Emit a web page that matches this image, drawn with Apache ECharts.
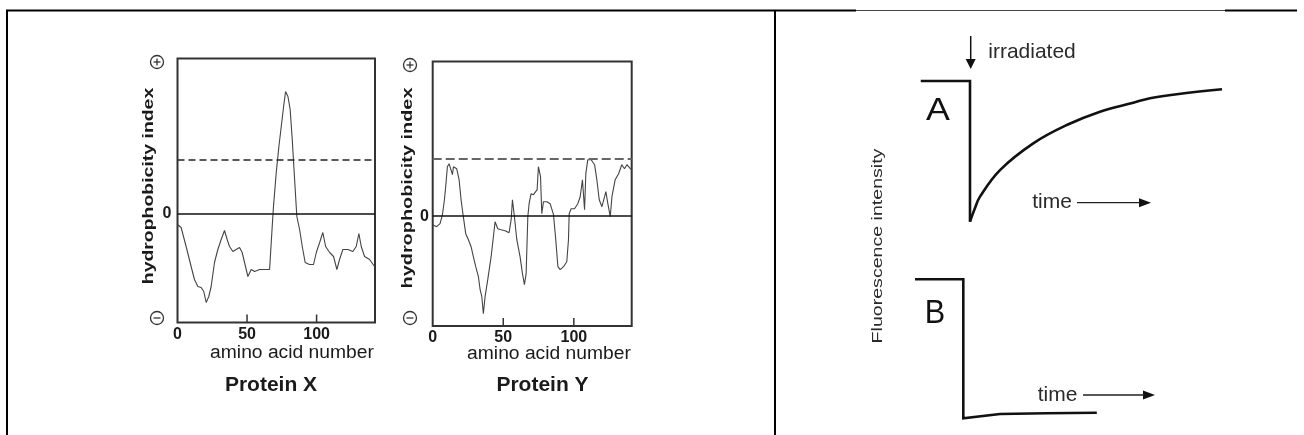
<!DOCTYPE html>
<html>
<head>
<meta charset="utf-8">
<script src="https://cdn.jsdelivr.net/npm/echarts@6/dist/echarts.min.js"></script>
<style>
html,body{margin:0;padding:0;background:#fff;}
#chart{width:1304px;height:435px;}
</style>
</head>
<body>
<div id="chart"></div>
<script>
// ---------- DATA ----------
// Protein X hydrophobicity profile (amino acid number, index in arbitrary units)
const proteinX_aa = [0,2.6,6.2,9.8,12.2,14.6,17,18.9,20.6,22.5,24.2,26.6,29,31.4,33.8,35.7,37.4,39.8,42.2,44.6,46.5,48.2,50.6,53,55.4,59,62.6,66.2,68.1,69,71,72.9,74.6,76.3,77.7,79.4,81,82.5,84.2,85.8,87.8,89.7,91.8,94.9,97.8,99.8,102.2,104.5,106.5,109.4,112.2,114.6,116.5,118.9,122.5,126.1,128.5,130.4,132.1,134.5,138.1,141.7];
const proteinX_index = [-1.1,-1.4,-3.3,-5.3,-6.6,-7.3,-7.4,-7.8,-8.9,-8.3,-7.3,-4.9,-3.6,-2.6,-1.7,-2.6,-3.3,-3.8,-3.6,-3.4,-3.9,-4.9,-6.3,-5.6,-5.8,-5.6,-5.6,-5.6,-1.3,0.7,4.1,6.7,8.7,10.7,12.2,11.7,10.4,7.4,3.4,-0.3,-1.6,-3.3,-4.9,-5.1,-5.1,-3.9,-2.9,-1.9,-3.3,-3.9,-4.3,-5.6,-4.6,-3.6,-3.6,-3.8,-3.3,-2.0,-3.3,-4.3,-4.6,-5.3];
// Protein Y hydrophobicity profile
const proteinY_aa = [0,2.8,5.2,6.9,8.3,9.2,10.4,11.6,13,14,14.7,17,18.7,20.1,21.7,23.4,25.3,27.2,28.8,30.5,32.4,33.6,34.8,35.9,37.1,39,41.4,43,44.2,46.1,48.5,51.3,54.1,55.6,56.5,57.9,59.6,61.9,63.6,65,66.2,67.4,68.3,69.7,71.4,72.6,74,74.9,76.4,77.3,78.5,80.9,83.2,85.6,87.2,88.7,90.3,92.7,95,96.2,96.7,98.1,100.5,102.8,104.5,106.1,107.6,108.5,109.9,112.3,114.7,116.3,118,119.9,121.8,122.7,124.1,125.8,127,129.3,131.7,134,135.9,137.6,140,141];
const proteinY_index = [-0.9,-1.1,-0.8,0.1,1.6,2.9,4.9,5.2,5.1,4.1,4.9,4.7,3.6,1.6,-0.1,-1.8,-2.4,-3.1,-4.1,-5.1,-6.1,-7.4,-8.1,-9.8,-8.1,-6.4,-4.1,-2.1,-0.6,-1.3,-1.4,-1.5,-1.7,-0.4,1.6,-0.1,-2.4,-4.1,-5.8,-6.9,-5.8,-0.1,1.2,2.2,2.1,1.9,2.6,4.9,3.9,0.2,1.4,1.4,1.2,0.1,-2.4,-5.1,-5.4,-5.1,-4.6,-2.4,0.2,0.7,0.7,1.2,1.9,3.6,0.6,4.2,5.6,5.6,5.1,3.6,1.6,0.9,1.9,2.4,1.2,-0.1,1.9,3.6,4.2,5.1,4.7,5.1,4.7,4.6];
// Dashed threshold lines
const thresholdX = 5.4;
const thresholdY = 5.67;
// Axis tick labels (amino acid number)
const aaTicks = [0, 50, 100];
// Fluorescence trace A (time, relative intensity)
const A_stepTime = [-1.97, 0, 0];
const A_stepIntensity = [1, 1, 0];
const A_recoveryTime = [0, 0.2, 0.4, 1.2, 2.53, 3.87, 5.2, 6.53, 7.2, 8.27, 10.08];
const A_recoveryIntensity = [0, 0.097, 0.178, 0.367, 0.557, 0.687, 0.782, 0.846, 0.877, 0.906, 0.941];
// Fluorescence trace B
const B_time = [-1.93, 0, 0, 1.47, 3.33, 5.34];
const B_intensity = [1, 1, 0, 0.031, 0.036, 0.04];

// ---------- HELPERS ----------
const zip = (a, b) => a.map((v, i) => [v, b[i]]);
const FONT = 'Liberation Sans, Arial, sans-serif';
const TXT = '#1a1a1a';
const X_RANGE = {min: -10.9, max: 15.5};
const Y_RANGE = {min: -11.03, max: 15.42};

function hydroXAxis(idx, max) {
  return {
    type: 'value', gridIndex: idx, min: 0, max: max, interval: 50, position: 'bottom',
    axisLine: {show: false, onZero: false},
    axisTick: {show: false},
    axisLabel: {
      show: true, margin: 4, fontSize: 16, fontWeight: 'bold', color: TXT, fontFamily: FONT,
      showMaxLabel: false,
      formatter: v => (aaTicks.indexOf(v) >= 0 ? String(v) : '')
    },
    splitLine: {show: false}
  };
}
function hiddenAxis(idx, min, max) {
  return {
    type: 'value', gridIndex: idx, min: min, max: max,
    axisLine: {show: false, onZero: false}, axisTick: {show: false}, axisLabel: {show: false}, splitLine: {show: false}
  };
}
function text(x, y, str, size, opts) {
  opts = opts || {};
  return {
    type: 'text', x: x, y: y, rotation: opts.rotation || 0,
    scaleX: opts.scaleX || 1, scaleY: opts.scaleY || 1, silent: true,
    style: {
      text: str, x: 0, y: 0, fontSize: size, fontFamily: FONT,
      fontWeight: opts.bold ? 'bold' : 'normal', fill: opts.color || TXT,
      align: 'center', verticalAlign: 'middle'
    }
  };
}
function line(x1, y1, x2, y2, w, color) {
  return {type: 'line', silent: true, z: 10, shape: {x1, y1, x2, y2}, style: {stroke: color || '#111', lineWidth: w}};
}
function signCircle(cx, cy, plus) {
  const els = [
    {type: 'circle', silent: true, shape: {cx, cy, r: 6.5}, style: {fill: 'none', stroke: '#333', lineWidth: 1.3}},
    line(cx - 3.5, cy, cx + 3.5, cy, 1.3, '#333')
  ];
  if (plus) els.push(line(cx, cy - 3.5, cx, cy + 3.5, 1.3, '#333'));
  return els;
}
function arrowHead(tipX, tipY, dir) {
  let pts;
  if (dir === 'down') pts = [[tipX - 5, tipY - 10], [tipX + 5, tipY - 10], [tipX, tipY]];
  else pts = [[tipX - 12, tipY - 4.5], [tipX - 12, tipY + 4.5], [tipX, tipY]];
  return {type: 'polygon', silent: true, shape: {points: pts}, style: {fill: '#111'}};
}

// ---------- OPTION ----------
const chart = echarts.init(document.getElementById('chart'), null, {renderer: 'canvas'});

const graphics = [
  // table borders
  line(6, 10.5, 856, 10.5, 2, '#000'),
  line(856, 10.5, 1225, 10.5, 1, '#444'),
  line(1225, 10.5, 1297, 10.5, 2, '#000'),
  line(7, 10, 7, 435, 2, '#000'),
  line(775, 10, 775, 435, 2, '#000'),

  // Protein X labels
  text(149, 186, 'hydrophobicity index', 14.5, {bold: true, rotation: Math.PI / 2, scaleX: 1.34}),
  text(167, 213.5, '0', 16, {bold: true}),
  text(292, 353, 'amino acid number', 18, {scaleX: 1.07}),
  text(271, 385, 'Protein X', 21, {bold: true}),
  ...signCircle(157, 62, true),
  ...signCircle(157, 318, false),

  // Protein Y labels
  text(407.5, 188, 'hydrophobicity index', 14.5, {bold: true, rotation: Math.PI / 2, scaleX: 1.37}),
  text(424.5, 216.5, '0', 16, {bold: true}),
  text(549, 354, 'amino acid number', 18, {scaleX: 1.07}),
  text(542.5, 385, 'Protein Y', 21, {bold: true}),
  ...signCircle(410, 65, true),
  ...signCircle(410, 318, false),

  // Fluorescence panel
  text(878, 246, 'Fluorescence intensity', 14.5, {rotation: Math.PI / 2, scaleX: 1.35, color: '#2a2a2a'}),
  line(970.7, 36, 970.7, 60, 1.5, '#111'),
  arrowHead(970.7, 69, 'down'),
  text(1032, 52.5, 'irradiated', 21, {color: '#2a2a2a'}),
  text(938, 111, 'A', 32, {scaleX: 1.12, color: '#111'}),
  text(935, 314, 'B', 34, {scaleX: 0.9, color: '#111'}),
  text(1052, 202.5, 'time', 21, {color: '#2a2a2a'}),
  line(1077, 202.7, 1140, 202.7, 1.3, '#222'),
  arrowHead(1151, 202.7, 'right'),
  text(1057.5, 395, 'time', 21, {color: '#2a2a2a'}),
  line(1083, 395, 1144, 395, 1.3, '#222'),
  arrowHead(1155, 395, 'right')
];

const option = {
  animation: false,
  backgroundColor: '#fff',
  grid: [
    {left: 177.5, top: 58.5, width: 197.5, height: 264, show: true, borderColor: '#333', borderWidth: 2, backgroundColor: 'transparent'},
    {left: 432.7, top: 61.5, width: 199, height: 264.5, show: true, borderColor: '#333', borderWidth: 2, backgroundColor: 'transparent'},
    {left: 920, top: 81, width: 305, height: 140.7, show: false},
    {left: 913.3, top: 279.3, width: 237.5, height: 139, show: false}
  ],
  xAxis: [
    hydroXAxis(0, 142),
    hydroXAxis(1, 141),
    hiddenAxis(2, -2, 10.2),
    hiddenAxis(3, -2, 7.5)
  ],
  yAxis: [
    hiddenAxis(0, X_RANGE.min, X_RANGE.max),
    hiddenAxis(1, Y_RANGE.min, Y_RANGE.max),
    hiddenAxis(2, 0, 1),
    hiddenAxis(3, 0, 1)
  ],
  series: [
    {
      name: 'Protein X', type: 'line', xAxisIndex: 0, yAxisIndex: 0,
      data: zip(proteinX_aa, proteinX_index), symbol: 'none', silent: true,
      lineStyle: {color: '#444', width: 1.1},
      markLine: {
        silent: true, symbol: 'none', label: {show: false},
        data: [
          {yAxis: 0, lineStyle: {type: 'solid', color: '#111', width: 1.5}},
          {yAxis: thresholdX, lineStyle: {type: [7, 4], color: '#222', width: 1.6}}
        ]
      }
    },
    {
      name: 'Protein Y', type: 'line', xAxisIndex: 1, yAxisIndex: 1,
      data: zip(proteinY_aa, proteinY_index), symbol: 'none', silent: true,
      lineStyle: {color: '#444', width: 1.1},
      markLine: {
        silent: true, symbol: 'none', label: {show: false},
        data: [
          {yAxis: 0, lineStyle: {type: 'solid', color: '#111', width: 1.5}},
          {yAxis: thresholdY, lineStyle: {type: [9, 4], color: '#666', width: 2}}
        ]
      }
    },
    {
      name: 'A step', type: 'line', xAxisIndex: 2, yAxisIndex: 2, clip: false,
      data: zip(A_stepTime, A_stepIntensity), symbol: 'none', silent: true,
      lineStyle: {color: '#111', width: 2.6, join: 'miter'}
    },
    {
      name: 'A recovery', type: 'line', xAxisIndex: 2, yAxisIndex: 2, clip: false,
      data: zip(A_recoveryTime, A_recoveryIntensity), symbol: 'none', silent: true, smooth: 0.4,
      lineStyle: {color: '#111', width: 2.6}
    },
    {
      name: 'B', type: 'line', xAxisIndex: 3, yAxisIndex: 3, clip: false,
      data: zip(B_time, B_intensity), symbol: 'none', silent: true,
      lineStyle: {color: '#111', width: 2.6, join: 'miter'}
    }
  ],
  graphic: graphics
};
chart.setOption(option);

// inside tick marks at the bottom frame, placed through the library's own scales
const tickEls = [];
[[0, X_RANGE], [1, Y_RANGE]].forEach(([g, range]) => {
  aaTicks.filter(v => v > 0).forEach(v => {
    const p0 = chart.convertToPixel({gridIndex: g}, [v, range.min]);
    tickEls.push({
      type: 'line', silent: true, z: 10,
      shape: {x1: p0[0], y1: p0[1], x2: p0[0], y2: p0[1] - 8},
      style: {stroke: '#333', lineWidth: 1.5}
    });
  });
});
chart.setOption({graphic: graphics.concat(tickEls)});
</script>
</body>
</html>
